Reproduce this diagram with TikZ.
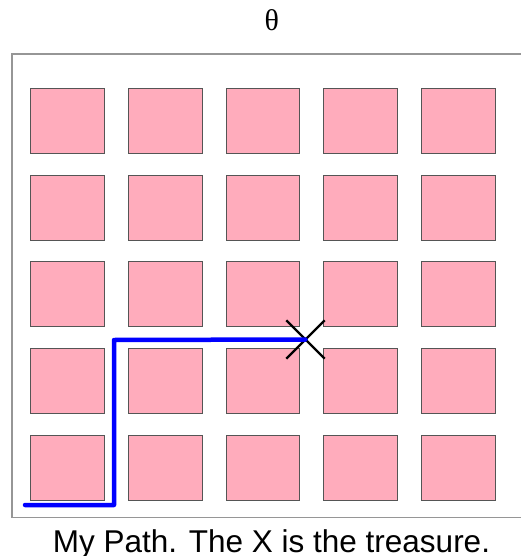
\documentclass[tikz,border=0pt]{standalone}
\usepackage{fontspec}
\setmainfont{Liberation Sans}
\newfontfamily\thetafont{Liberation Serif}
\usetikzlibrary{shapes.misc, positioning}
\definecolor{cellpink}{RGB}{255,172,188}
\definecolor{celledge}{RGB}{85,85,85}
\definecolor{framegray}{RGB}{150,150,150}

\begin{document}
\begin{tikzpicture}[x=1pt, y=-1pt,
    cell/.style={draw=celledge, fill=cellpink, line width=1pt, minimum width=73.7pt, minimum height=65pt, inner sep=0pt},
    route/.style={draw=blue, line width=4.5pt, line cap=round, line join=round},
    mark x/.style={cross out, draw=black, line width=2.4pt, minimum size=36pt, inner sep=0pt}]
    \useasboundingbox (0,0) rectangle (521,556);
    % frame (right side runs off the page)
    \draw[framegray, line width=1.4pt] (521,54) -- (12,54) -- (12,517.5) -- (521,517.5);
    % grid of cells
    \foreach \r in {1,...,5}
      \foreach \c in {1,...,5}
        \node[cell] (cell-\r-\c) at ({67.5+97.7*(\c-1)},{120.8+86.7*(\r-1)}) {};
    % path to the treasure
    \coordinate (start) at (25,505);
    \coordinate (bend1) at (114,505);
    \coordinate (bend2) at (114,340);
    \node[mark x] (treasure) at (305.5,339.5) {};
    \draw[route] (start) -- (bend1) -- (bend2) -- (treasure.center);
    % labels
    \node[font=\thetafont\fontsize{30}{34}\selectfont] (title) at (271.7,20) {θ};
    \node[anchor=base, font=\fontsize{31.5}{36}\selectfont, inner sep=0pt] (caption) at (271.5,552) {My Path. The X is the treasure.};
\end{tikzpicture}
\end{document}
